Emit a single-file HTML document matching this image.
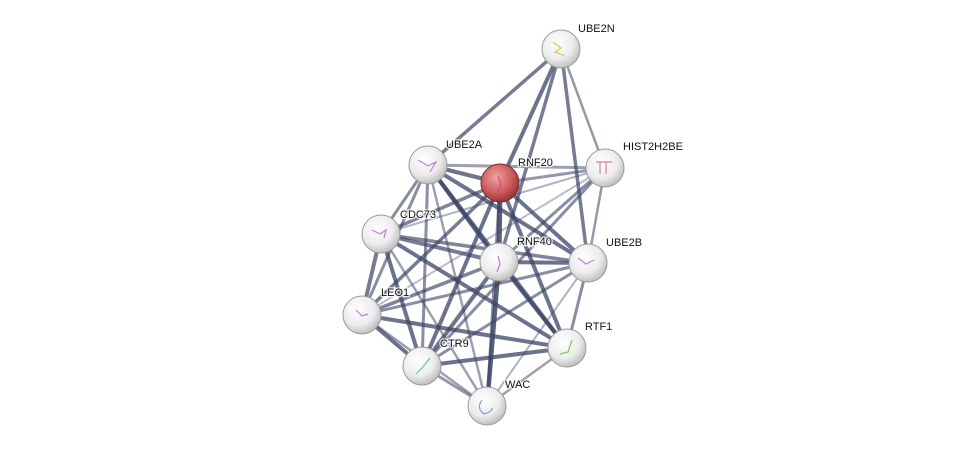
<!DOCTYPE html>
<html><head><style>
body{margin:0;background:#fff;}
text{font-family:"Liberation Sans",sans-serif;font-size:11px;fill:#111;paint-order:stroke;stroke:#fff;stroke-width:2.5px;stroke-opacity:0.8;}
</style></head><body>
<svg width="976" height="451" viewBox="0 0 976 451" xmlns="http://www.w3.org/2000/svg">
<defs>
<radialGradient id="w" cx="0.4" cy="0.35" r="0.7">
<stop offset="0" stop-color="#ffffff"/><stop offset="0.6" stop-color="#ececec"/><stop offset="1" stop-color="#b8b8b8"/></radialGradient>
<radialGradient id="r" cx="0.4" cy="0.35" r="0.7">
<stop offset="0" stop-color="#f2a0a0"/><stop offset="0.6" stop-color="#cc5a5e"/><stop offset="1" stop-color="#8e2e32"/></radialGradient>
</defs>
<g stroke="#3c4566" stroke-linecap="round">
<line x1="561" y1="49" x2="428" y2="165" stroke-width="3.5" opacity="0.7"/>
<line x1="561" y1="49" x2="500" y2="183" stroke-width="4" opacity="0.75"/>
<line x1="561" y1="49" x2="605" y2="168" stroke-width="2.5" opacity="0.55"/>
<line x1="561" y1="49" x2="499" y2="262" stroke-width="3.5" opacity="0.7"/>
<line x1="561" y1="49" x2="588" y2="263" stroke-width="3.5" opacity="0.7"/>
<line x1="428" y1="165" x2="500" y2="183" stroke-width="4" opacity="0.75"/>
<line x1="428" y1="165" x2="605" y2="168" stroke-width="3" opacity="0.5"/>
<line x1="428" y1="165" x2="381" y2="234" stroke-width="3" opacity="0.6"/>
<line x1="428" y1="165" x2="499" y2="262" stroke-width="4" opacity="0.8"/>
<line x1="428" y1="165" x2="588" y2="263" stroke-width="4" opacity="0.75"/>
<line x1="428" y1="165" x2="362" y2="315" stroke-width="3" opacity="0.6"/>
<line x1="428" y1="165" x2="567" y2="348" stroke-width="4" opacity="0.75"/>
<line x1="428" y1="165" x2="422" y2="366" stroke-width="3" opacity="0.6"/>
<line x1="428" y1="165" x2="487" y2="406" stroke-width="2.5" opacity="0.5"/>
<line x1="500" y1="183" x2="605" y2="168" stroke-width="3" opacity="0.55"/>
<line x1="500" y1="183" x2="381" y2="234" stroke-width="3.5" opacity="0.65"/>
<line x1="500" y1="183" x2="499" y2="262" stroke-width="5" opacity="0.85"/>
<line x1="500" y1="183" x2="588" y2="263" stroke-width="4" opacity="0.75"/>
<line x1="500" y1="183" x2="362" y2="315" stroke-width="3.5" opacity="0.7"/>
<line x1="500" y1="183" x2="567" y2="348" stroke-width="4" opacity="0.75"/>
<line x1="500" y1="183" x2="422" y2="366" stroke-width="4" opacity="0.75"/>
<line x1="500" y1="183" x2="487" y2="406" stroke-width="3" opacity="0.6"/>
<line x1="605" y1="168" x2="381" y2="234" stroke-width="2" opacity="0.4"/>
<line x1="605" y1="168" x2="499" y2="262" stroke-width="3" opacity="0.6"/>
<line x1="605" y1="168" x2="588" y2="263" stroke-width="2.5" opacity="0.55"/>
<line x1="605" y1="168" x2="362" y2="315" stroke-width="2" opacity="0.35"/>
<line x1="605" y1="168" x2="422" y2="366" stroke-width="3" opacity="0.6"/>
<line x1="381" y1="234" x2="499" y2="262" stroke-width="4" opacity="0.7"/>
<line x1="381" y1="234" x2="588" y2="263" stroke-width="3.5" opacity="0.65"/>
<line x1="381" y1="234" x2="362" y2="315" stroke-width="4" opacity="0.7"/>
<line x1="381" y1="234" x2="567" y2="348" stroke-width="4" opacity="0.75"/>
<line x1="381" y1="234" x2="422" y2="366" stroke-width="4" opacity="0.75"/>
<line x1="381" y1="234" x2="487" y2="406" stroke-width="2.5" opacity="0.5"/>
<line x1="499" y1="262" x2="588" y2="263" stroke-width="4" opacity="0.75"/>
<line x1="499" y1="262" x2="362" y2="315" stroke-width="3.5" opacity="0.65"/>
<line x1="499" y1="262" x2="567" y2="348" stroke-width="4" opacity="0.8"/>
<line x1="499" y1="262" x2="422" y2="366" stroke-width="4" opacity="0.75"/>
<line x1="499" y1="262" x2="487" y2="406" stroke-width="4.5" opacity="0.85"/>
<line x1="588" y1="263" x2="362" y2="315" stroke-width="3" opacity="0.6"/>
<line x1="588" y1="263" x2="567" y2="348" stroke-width="3" opacity="0.6"/>
<line x1="588" y1="263" x2="422" y2="366" stroke-width="3" opacity="0.6"/>
<line x1="588" y1="263" x2="487" y2="406" stroke-width="2" opacity="0.4"/>
<line x1="362" y1="315" x2="567" y2="348" stroke-width="4" opacity="0.75"/>
<line x1="362" y1="315" x2="422" y2="366" stroke-width="4" opacity="0.75"/>
<line x1="362" y1="315" x2="487" y2="406" stroke-width="2.5" opacity="0.5"/>
<line x1="567" y1="348" x2="422" y2="366" stroke-width="4" opacity="0.75"/>
<line x1="567" y1="348" x2="487" y2="406" stroke-width="2.5" opacity="0.5"/>
<line x1="422" y1="366" x2="487" y2="406" stroke-width="3" opacity="0.55"/>
</g>
<g stroke="#9a9a9a" stroke-width="1">
<circle cx="561" cy="49" r="19" fill="url(#w)"/>
<circle cx="605" cy="168" r="19" fill="url(#w)"/>
<circle cx="428" cy="165" r="19" fill="url(#w)"/>
<circle cx="500" cy="183" r="19" fill="url(#r)" stroke="#7a2a2e"/>
<circle cx="381" cy="234" r="19" fill="url(#w)"/>
<circle cx="499" cy="262" r="19" fill="url(#w)"/>
<circle cx="588" cy="263" r="19" fill="url(#w)"/>
<circle cx="362" cy="315" r="19" fill="url(#w)"/>
<circle cx="567" cy="348" r="19" fill="url(#w)"/>
<circle cx="422" cy="366" r="19" fill="url(#w)"/>
<circle cx="487" cy="406" r="19" fill="url(#w)"/>
</g>
<g fill="none" stroke-width="1.2" opacity="0.8">
<path d="M553 42 l8 6 l-6 4 l10 4" stroke="#d4b820"/>
<path d="M596 162 h16 M600 162 v12 M606 162 v12" stroke="#d06090"/>
<path d="M418 160 l10 6 l8 -4 l-6 10" stroke="#b060d0"/>
<path d="M498 176 l3 8 l-3 8" stroke="#d04080"/>
<path d="M372 230 l8 4 l6 -4 l-2 8" stroke="#b060d0"/>
<path d="M498 256 l2 8 l-3 8" stroke="#b060d0"/>
<path d="M578 258 l8 6 l8 -4" stroke="#b060d0"/>
<path d="M356 310 l6 6 l6 -2" stroke="#b060d0"/>
<path d="M572 340 l-4 12 l-8 2" stroke="#60c040"/>
<path d="M430 358 l-8 10 l-6 6" stroke="#40c090"/>
<path d="M482 400 q-6 8 2 14 q8 -2 8 -6" stroke="#6090d0"/>
</g>
<text x="578" y="32">UBE2N</text>
<text x="623" y="150">HIST2H2BE</text>
<text x="446" y="148">UBE2A</text>
<text x="518" y="166">RNF20</text>
<text x="400" y="218">CDC73</text>
<text x="517" y="245">RNF40</text>
<text x="606" y="246">UBE2B</text>
<text x="381" y="296">LEO1</text>
<text x="585" y="330">RTF1</text>
<text x="440" y="347">CTR9</text>
<text x="505" y="388">WAC</text>
</svg>
</body></html>
